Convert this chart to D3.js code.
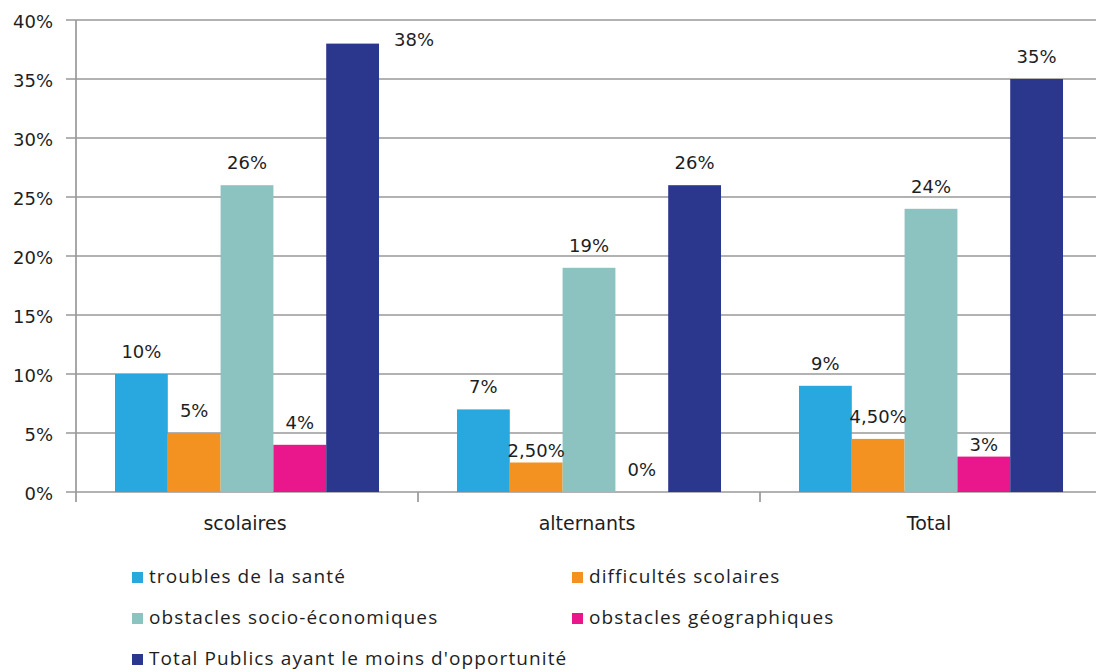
<!DOCTYPE html>
<html>
<head>
<meta charset="utf-8">
<script src="https://cdn.jsdelivr.net/npm/d3@7"></script>
<style>
  body { margin: 0; background: #fff; }
  svg { display: block; }
</style>
</head>
<body>
<script>
// data
var categories = ["scolaires", "alternants", "Total"];
var series = ["troubles de la santé", "difficultés scolaires", "obstacles socio-économiques",
              "obstacles géographiques", "Total Publics ayant le moins d'opportunité"];
var troubles = [10, 7, 9];
var difficultes = [5, 2.5, 4.5];
var socioEco = [26, 19, 24];
var geo = [4, 0, 3];
var totalPublics = [38, 26, 35];
var yTicks = [0, 5, 10, 15, 20, 25, 30, 35, 40];

var colors = ["#29a8e0", "#f39121", "#8cc2bf", "#e9168c", "#2b378d"];
var values = [troubles, difficultes, socioEco, geo, totalPublics];

// svg set up
var W = 1096, H = 672;
var margin = {top: 20, left: 76},
  plotW = 342 * 3,
  plotH = 472;

var svg = d3.select("body").append("svg")
  .attr("width", W)
  .attr("height", H);

var g = svg.append("g")
  .attr("transform", "translate(" + margin.left + "," + margin.top + ")");

var x0 = d3.scaleBand().domain(categories).range([0, plotW]).padding(0);
var pad = x0.bandwidth() * 0.114;
var x1 = d3.scaleBand().domain(series).range([pad, x0.bandwidth() - pad]).padding(0);
var y = d3.scaleLinear().domain([0, 40]).range([plotH, 0]);

var gridColor = "#999999";
var textColor = "#1e1e1e";
var axisFont = "'DejaVu Sans', Verdana, sans-serif";

// gridlines
g.append("g")
  .selectAll("line")
  .data(yTicks)
  .enter()
  .append("line")
  .attr("x1", -10)
  .attr("x2", plotW)
  .attr("y1", d => y(d))
  .attr("y2", d => y(d))
  .style("stroke", gridColor)
  .style("stroke-width", 1.7);

// y axis line
g.append("line")
  .attr("x1", 0).attr("x2", 0)
  .attr("y1", 0).attr("y2", plotH + 10)
  .style("stroke", gridColor)
  .style("stroke-width", 1.7);

// category ticks
g.append("g")
  .selectAll("line")
  .data(categories.slice(1))
  .enter()
  .append("line")
  .attr("x1", d => x0(d)).attr("x2", d => x0(d))
  .attr("y1", plotH).attr("y2", plotH + 10)
  .style("stroke", gridColor)
  .style("stroke-width", 1.7);

// y tick labels
g.append("g")
  .selectAll("text")
  .data(yTicks)
  .enter()
  .append("text")
  .attr("x", -23)
  .attr("y", d => y(d) + 2)
  .attr("dy", "0.35em")
  .attr("text-anchor", "end")
  .style("font-family", axisFont)
  .style("font-size", "18px")
  .style("fill", textColor)
  .text(d => d + "%");

// category labels
g.append("g")
  .selectAll("text")
  .data(categories)
  .enter()
  .append("text")
  .attr("x", d => x0(d) + x0.bandwidth() / 2 - 2)
  .attr("y", plotH + 38)
  .attr("text-anchor", "middle")
  .style("font-family", axisFont)
  .style("font-size", "19px")
  .style("fill", textColor)
  .text(d => d);

// bars
var rows = [];
categories.forEach((c, ci) => {
  series.forEach((s, si) => {
    rows.push({cat: c, ser: s, si: si, value: values[si][ci]});
  });
});

g.append("g")
  .selectAll("rect")
  .data(rows)
  .enter()
  .append("rect")
  .attr("x", d => x0(d.cat) + x1(d.ser))
  .attr("y", d => y(d.value))
  .attr("width", x1.bandwidth())
  .attr("height", d => plotH - y(d.value))
  .style("fill", d => colors[d.si]);

// data labels
var fmt = v => Number.isInteger(v) ? v + "%" : v.toFixed(2).replace(".", ",") + "%";
// a few labels were moved by hand in the original
var nudge = {"alternants|1": 10, "Total|3": 10};

g.append("g")
  .selectAll("text")
  .data(rows)
  .enter()
  .append("text")
  .attr("x", d => {
    var cx = x0(d.cat) + x1(d.ser) + x1.bandwidth() / 2;
    if (y(d.value) - 16 < 22) return cx + x1.bandwidth() / 2 + 35;
    return cx;
  })
  .attr("y", d => {
    if (y(d.value) - 16 < 22) return y(d.value) + 2;
    return y(d.value) - 16 + (nudge[d.cat + "|" + d.si] || 0);
  })
  .attr("text-anchor", "middle")
  .style("font-family", axisFont)
  .style("font-size", "18px")
  .style("fill", textColor)
  .text(d => fmt(d.value));

// legend
var legend = svg.append("g")
  .selectAll("g")
  .data(series)
  .enter()
  .append("g")
  .attr("transform", (d, i) => "translate(" + (i % 2 === 0 ? 132 : 572) + "," + (572 + Math.floor(i / 2) * 41) + ")");

legend.append("rect")
  .attr("width", 11)
  .attr("height", 11)
  .style("fill", (d, i) => colors[i]);

legend.append("text")
  .attr("x", 17)
  .attr("y", 11)
  .style("font-family", "'Open Sans', sans-serif")
  .style("font-size", "19px")
  .style("letter-spacing", "1.1px")
  .style("fill", textColor)
  .text(d => d);
</script>
</body>
</html>
